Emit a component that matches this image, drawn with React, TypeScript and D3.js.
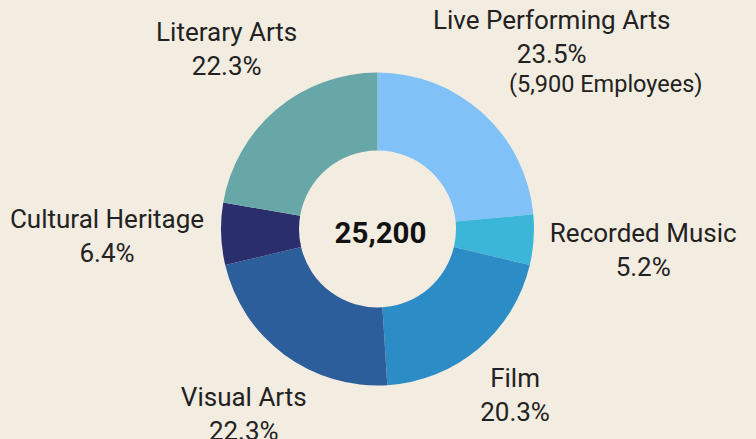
import React, { useEffect, useRef } from 'react';
import * as d3 from 'd3';

// slices, clockwise from 12 o'clock
const categories = [
  'Live Performing Arts',
  'Recorded Music',
  'Film',
  'Visual Arts',
  'Cultural Heritage',
  'Literary Arts',
];
const shares = [23.5, 5.2, 20.3, 22.3, 6.4, 22.3];
const sliceColors = ['#80c1f8', '#3cb6d8', '#2c8dc6', '#2d5e9c', '#2b2e6c', '#67a7a7'];
const extraLines = ['(5,900 Employees)', '', '', '', '', ''];
const totalLabel = '25,200';

// label placement: distance from centre and a small nudge (degrees) off the slice's mid angle
const labelDist = [265, 266, 209.5, 222, 270.5, 241];
const labelNudge = [-1.2, -1.2, -0.9, 0.5, 2.0, 1.4];

const App = () => {
  const svgRef = useRef<SVGSVGElement>(null);

  useEffect(() => {
    const width = 756;
    const height = 439;
    const cx = 377.5;
    const cy = 229;
    const outerR = 156.5;
    const innerR = 78.5;

    d3.select(svgRef.current).selectAll('*').remove();

    const svg = d3
      .select(svgRef.current)
      .attr('width', width)
      .attr('height', height);

    svg
      .append('rect')
      .attr('width', width)
      .attr('height', height)
      .attr('fill', '#f3ece0');

    const data = categories.map((c, i) => ({ name: c, value: shares[i], extra: extraLines[i] }));

    const pie = d3
      .pie<any>()
      .value(d => d.value)
      .sort(null);
    const arcs = pie(data);

    const arc = d3.arc<any>().innerRadius(innerR).outerRadius(outerR);

    const g = svg.append('g').attr('transform', `translate(${cx}, ${cy})`);

    g.selectAll('path')
      .data(arcs)
      .enter()
      .append('path')
      .attr('d', arc)
      .attr('fill', (_, i) => sliceColors[i]);

    g.append('text')
      .attr('x', 3)
      .attr('y', 14)
      .attr('text-anchor', 'middle')
      .style('font-family', 'Roboto, sans-serif')
      .style('font-size', '29.5px')
      .style('font-weight', 'bold')
      .attr('fill', '#111')
      .text(totalLabel);

    // labels
    const labels = g
      .selectAll('.label')
      .data(arcs)
      .enter()
      .append('g')
      .attr('transform', (d, i) => {
        const a = (d.startAngle + d.endAngle) / 2 + (labelNudge[i] * Math.PI) / 180;
        const x = Math.sin(a) * labelDist[i];
        const y = -Math.cos(a) * labelDist[i];
        return `translate(${x}, ${y})`;
      })
      .style('font-family', 'Roboto, sans-serif')
      .attr('fill', '#222')
      .attr('text-anchor', 'middle');

    labels
      .append('text')
      .style('font-size', '26px')
      .text(d => d.data.name);

    labels
      .append('text')
      .attr('y', 34)
      .style('font-size', '26px')
      .text(d => `${d.data.value.toFixed(1)}%`);

    labels
      .filter(d => d.data.extra !== '')
      .append('text')
      .attr('x', 54)
      .attr('y', 63)
      .style('font-size', '23.5px')
      .text(d => d.data.extra);
  }, []);

  return <svg ref={svgRef} style={{ position: 'absolute', left: 0, top: 0 }}></svg>;
};

export default App;
